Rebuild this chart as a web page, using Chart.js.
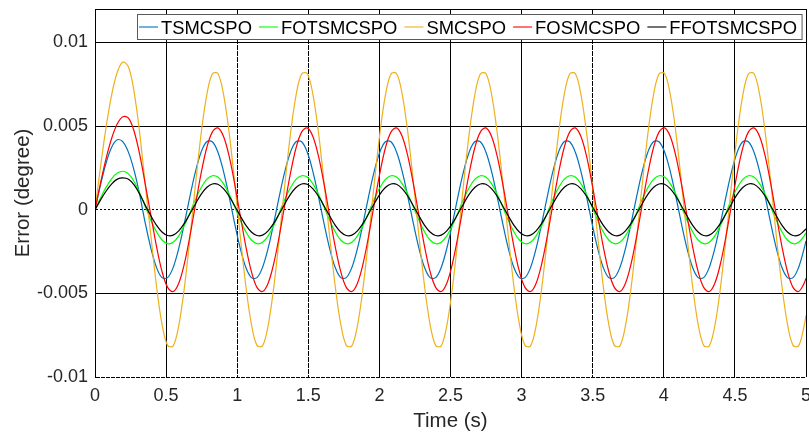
<!DOCTYPE html>
<html><head><meta charset="utf-8">
<script src="https://cdn.jsdelivr.net/npm/chart.js@4/dist/chart.umd.min.js"></script>
<style>html,body{margin:0;padding:0;background:#fff;}</style>
</head><body>
<canvas id="c" width="809" height="435"></canvas>
<script>
const seriesNames = ['TSMCSPO','FOTSMCSPO','SMCSPO','FOSMCSPO','FFOTSMCSPO'];
const seriesColors = ['#0072BD','#00FF00','#EDB120','#FF0000','#000000'];
const xTitle = 'Time (s)';
const yTitle = 'Error (degree)';
const xTicks = [0,0.5,1,1.5,2,2.5,3,3.5,4,4.5,5];
const xTickLabels = ['0','0.5','1','1.5','2','2.5','3','3.5','4','4.5','5'];
const yTicks = [-0.01,-0.005,0,0.005,0.01];
const yTickLabels = ['-0.01','-0.005','0','0.005','0.01'];

const time = [
0,0.0393,0.0785,0.1178,0.1571,0.1963,0.2356,0.2749,0.3142,0.3534,0.3927,0.4320,0.4712,0.5105,0.5498,0.5890,
0.6283,0.6676,0.7069,0.7461,0.7854,0.8247,0.8639,0.9032,0.9425,0.9817,1.0210,1.0603,1.0996,1.1388,1.1781,1.2174,
1.2566,1.2959,1.3352,1.3744,1.4137,1.4530,1.4923,1.5315,1.5708,1.6101,1.6493,1.6886,1.7279,1.7671,1.8064,1.8457,
1.8850,1.9242,1.9635,2.0028,2.0420,2.0813,2.1206,2.1598,2.1991,2.2384,2.2777,2.3169,2.3562,2.3955,2.4347,2.4740,
2.5133,2.5525,2.5918,2.6311,2.6704,2.7096,2.7489,2.7882,2.8274,2.8667,2.9060,2.9452,2.9845,3.0238,3.0631,3.1023,
3.1416,3.1809,3.2201,3.2594,3.2987,3.3379,3.3772,3.4165,3.4558,3.4950,3.5343,3.5736,3.6128,3.6521,3.6914,3.7306,
3.7699,3.8092,3.8485,3.8877,3.9270,3.9663,4.0055,4.0448,4.0841,4.1233,4.1626,4.2019,4.2412,4.2804,4.3197,4.3590,
4.3982,4.4375,4.4768,4.5160,4.5553,4.5946,4.6339,4.6731,4.7124,4.7517,4.7909,4.8302,4.8695,4.9087,4.9480,4.9873,
5.0];

const tsmcspo = [
0,0.00151,0.00281,0.00375,0.00418,0.00406,0.00343,0.00235,0.00090,-0.00080,-0.00229,-0.00344,-0.00406,-0.00406,-0.00345,-0.00231,
-0.00082,0.00080,0.00229,0.00344,0.00406,0.00406,0.00345,0.00231,0.00082,-0.00080,-0.00229,-0.00344,-0.00406,-0.00406,-0.00345,-0.00231,
-0.00082,0.00080,0.00229,0.00344,0.00406,0.00406,0.00345,0.00231,0.00082,-0.00080,-0.00229,-0.00344,-0.00406,-0.00406,-0.00345,-0.00231,
-0.00082,0.00080,0.00229,0.00344,0.00406,0.00406,0.00345,0.00231,0.00082,-0.00080,-0.00229,-0.00344,-0.00406,-0.00406,-0.00345,-0.00231,
-0.00082,0.00080,0.00229,0.00344,0.00406,0.00406,0.00345,0.00231,0.00082,-0.00080,-0.00229,-0.00344,-0.00406,-0.00406,-0.00345,-0.00231,
-0.00082,0.00080,0.00229,0.00344,0.00406,0.00406,0.00345,0.00231,0.00082,-0.00080,-0.00229,-0.00344,-0.00406,-0.00406,-0.00345,-0.00231,
-0.00082,0.00080,0.00229,0.00344,0.00406,0.00406,0.00345,0.00231,0.00082,-0.00080,-0.00229,-0.00344,-0.00406,-0.00406,-0.00345,-0.00231,
-0.00082,0.00080,0.00229,0.00344,0.00406,0.00406,0.00345,0.00231,0.00082,-0.00080,-0.00229,-0.00344,-0.00406,-0.00406,-0.00345,-0.00231,
-0.00186];

const fotsmcspo = [
0,0.00071,0.00135,0.00186,0.00219,0.00230,0.00214,0.00169,0.00100,0.00019,-0.00062,-0.00131,-0.00181,-0.00203,-0.00195,-0.00156,
-0.00094,-0.00018,0.00062,0.00131,0.00181,0.00203,0.00195,0.00156,0.00094,0.00018,-0.00062,-0.00131,-0.00181,-0.00203,-0.00195,-0.00156,
-0.00094,-0.00018,0.00062,0.00131,0.00181,0.00203,0.00195,0.00156,0.00094,0.00018,-0.00062,-0.00131,-0.00181,-0.00203,-0.00195,-0.00156,
-0.00094,-0.00018,0.00062,0.00131,0.00181,0.00203,0.00195,0.00156,0.00094,0.00018,-0.00062,-0.00131,-0.00181,-0.00203,-0.00195,-0.00156,
-0.00094,-0.00018,0.00062,0.00131,0.00181,0.00203,0.00195,0.00156,0.00094,0.00018,-0.00062,-0.00131,-0.00181,-0.00203,-0.00195,-0.00156,
-0.00094,-0.00018,0.00062,0.00131,0.00181,0.00203,0.00195,0.00156,0.00094,0.00018,-0.00062,-0.00131,-0.00181,-0.00203,-0.00195,-0.00156,
-0.00094,-0.00018,0.00062,0.00131,0.00181,0.00203,0.00195,0.00156,0.00094,0.00018,-0.00062,-0.00131,-0.00181,-0.00203,-0.00195,-0.00156,
-0.00094,-0.00018,0.00062,0.00131,0.00181,0.00203,0.00195,0.00156,0.00094,0.00018,-0.00062,-0.00131,-0.00181,-0.00203,-0.00195,-0.00156,
-0.00138];

const smcspo = [
0,0.00260,0.00497,0.00690,0.00823,0.00883,0.00853,0.00705,0.00458,0.00149,-0.00154,-0.00453,-0.00684,-0.00811,-0.00814,-0.00693,
-0.00467,-0.00169,0.00154,0.00453,0.00684,0.00811,0.00814,0.00693,0.00467,0.00169,-0.00154,-0.00453,-0.00684,-0.00811,-0.00814,-0.00693,
-0.00467,-0.00169,0.00154,0.00453,0.00684,0.00811,0.00814,0.00693,0.00467,0.00169,-0.00154,-0.00453,-0.00684,-0.00811,-0.00814,-0.00693,
-0.00467,-0.00169,0.00154,0.00453,0.00684,0.00811,0.00814,0.00693,0.00467,0.00169,-0.00154,-0.00453,-0.00684,-0.00811,-0.00814,-0.00693,
-0.00467,-0.00169,0.00154,0.00453,0.00684,0.00811,0.00814,0.00693,0.00467,0.00169,-0.00154,-0.00453,-0.00684,-0.00811,-0.00814,-0.00693,
-0.00467,-0.00169,0.00154,0.00453,0.00684,0.00811,0.00814,0.00693,0.00467,0.00169,-0.00154,-0.00453,-0.00684,-0.00811,-0.00814,-0.00693,
-0.00467,-0.00169,0.00154,0.00453,0.00684,0.00811,0.00814,0.00693,0.00467,0.00169,-0.00154,-0.00453,-0.00684,-0.00811,-0.00814,-0.00693,
-0.00467,-0.00169,0.00154,0.00453,0.00684,0.00811,0.00814,0.00693,0.00467,0.00169,-0.00154,-0.00453,-0.00684,-0.00811,-0.00814,-0.00693,
-0.00631];

const fosmcspo = [
0,0.00161,0.00308,0.00429,0.00514,0.00556,0.00547,0.00469,0.00331,0.00153,-0.00032,-0.00217,-0.00369,-0.00464,-0.00489,-0.00439,
-0.00323,-0.00157,0.00032,0.00217,0.00369,0.00464,0.00489,0.00439,0.00323,0.00157,-0.00032,-0.00217,-0.00369,-0.00464,-0.00489,-0.00439,
-0.00323,-0.00157,0.00032,0.00217,0.00369,0.00464,0.00489,0.00439,0.00323,0.00157,-0.00032,-0.00217,-0.00369,-0.00464,-0.00489,-0.00439,
-0.00323,-0.00157,0.00032,0.00217,0.00369,0.00464,0.00489,0.00439,0.00323,0.00157,-0.00032,-0.00217,-0.00369,-0.00464,-0.00489,-0.00439,
-0.00323,-0.00157,0.00032,0.00217,0.00369,0.00464,0.00489,0.00439,0.00323,0.00157,-0.00032,-0.00217,-0.00369,-0.00464,-0.00489,-0.00439,
-0.00323,-0.00157,0.00032,0.00217,0.00369,0.00464,0.00489,0.00439,0.00323,0.00157,-0.00032,-0.00217,-0.00369,-0.00464,-0.00489,-0.00439,
-0.00323,-0.00157,0.00032,0.00217,0.00369,0.00464,0.00489,0.00439,0.00323,0.00157,-0.00032,-0.00217,-0.00369,-0.00464,-0.00489,-0.00439,
-0.00323,-0.00157,0.00032,0.00217,0.00369,0.00464,0.00489,0.00439,0.00323,0.00157,-0.00032,-0.00217,-0.00369,-0.00464,-0.00489,-0.00439,
-0.00409];

const ffotsmcspo = [
0,0.00059,0.00112,0.00155,0.00183,0.00190,0.00182,0.00149,0.00094,0.00026,-0.00036,-0.00092,-0.00133,-0.00154,-0.00152,-0.00126,
-0.00082,-0.00024,0.00036,0.00092,0.00133,0.00154,0.00152,0.00126,0.00082,0.00024,-0.00036,-0.00092,-0.00133,-0.00154,-0.00152,-0.00126,
-0.00082,-0.00024,0.00036,0.00092,0.00133,0.00154,0.00152,0.00126,0.00082,0.00024,-0.00036,-0.00092,-0.00133,-0.00154,-0.00152,-0.00126,
-0.00082,-0.00024,0.00036,0.00092,0.00133,0.00154,0.00152,0.00126,0.00082,0.00024,-0.00036,-0.00092,-0.00133,-0.00154,-0.00152,-0.00126,
-0.00082,-0.00024,0.00036,0.00092,0.00133,0.00154,0.00152,0.00126,0.00082,0.00024,-0.00036,-0.00092,-0.00133,-0.00154,-0.00152,-0.00126,
-0.00082,-0.00024,0.00036,0.00092,0.00133,0.00154,0.00152,0.00126,0.00082,0.00024,-0.00036,-0.00092,-0.00133,-0.00154,-0.00152,-0.00126,
-0.00082,-0.00024,0.00036,0.00092,0.00133,0.00154,0.00152,0.00126,0.00082,0.00024,-0.00036,-0.00092,-0.00133,-0.00154,-0.00152,-0.00126,
-0.00082,-0.00024,0.00036,0.00092,0.00133,0.00154,0.00152,0.00126,0.00082,0.00024,-0.00036,-0.00092,-0.00133,-0.00154,-0.00152,-0.00126,
-0.00114];

const seriesValues = [tsmcspo, fotsmcspo, smcspo, fosmcspo, ffotsmcspo];

const FONT = '"Liberation Sans", Arial, Helvetica, sans-serif';
const TEXT = '#262626';

const datasets = seriesNames.map((name, i) => ({
  label: name,
  data: time.map((t, k) => ({x: t, y: seriesValues[i][k]})),
  borderColor: seriesColors[i],
  backgroundColor: seriesColors[i],
  borderWidth: 1.2,
  pointRadius: 0,
  tension: 0.35,
  fill: false,
  order: seriesNames.length - i
}));

const frameLegend = {
  id: 'frameLegend',
  afterDraw(chart) {
    const ctx = chart.ctx, a = chart.chartArea;
    ctx.save();
    ctx.strokeStyle = '#000';
    ctx.lineWidth = 1;
    ctx.setLineDash([]);
    ctx.beginPath();
    ctx.moveTo(a.left + 0.5, a.bottom);
    ctx.lineTo(a.left + 0.5, a.top + 0.5);
    ctx.lineTo(a.right + 0.5, a.top + 0.5);
    ctx.lineTo(a.right + 0.5, a.bottom);
    ctx.stroke();

    // legend
    ctx.font = '18.4px ' + FONT;
    const startX = 139, lineLen = 19, textGap = 3, itemGap = 7;
    let cur = startX;
    const items = [];
    seriesNames.forEach((n, i) => {
      const w = ctx.measureText(n).width;
      items.push({x: cur, w});
      cur += lineLen + textGap + w + itemGap;
    });
    const right = cur - itemGap + 5;
    const bx = 137.5, by = 14.5, bh = 25;
    ctx.fillStyle = '#fff';
    ctx.fillRect(bx, by, right - bx, bh);
    ctx.strokeStyle = '#5a5a5a';
    ctx.strokeRect(bx, by, right - bx, bh);
    seriesNames.forEach((n, i) => {
      const it = items[i];
      ctx.globalAlpha = 0.55;
      ctx.strokeStyle = seriesColors[i];
      ctx.lineWidth = 2;
      ctx.beginPath();
      ctx.moveTo(it.x, 27);
      ctx.lineTo(it.x + lineLen, 27);
      ctx.stroke();
      ctx.globalAlpha = 1;
      ctx.fillStyle = '#000';
      ctx.textBaseline = 'alphabetic';
      ctx.textAlign = 'left';
      ctx.fillText(n, it.x + lineLen + textGap, 34);
    });
    ctx.restore();
  }
};

const whiteBg = {
  id: 'whiteBg',
  beforeDraw(chart) {
    const ctx = chart.ctx;
    ctx.save();
    ctx.fillStyle = '#fff';
    ctx.fillRect(0, 0, chart.width, chart.height);
    ctx.restore();
  }
};

new Chart(document.getElementById('c'), {
  type: 'line',
  data: { datasets },
  plugins: [whiteBg, frameLegend],
  options: {
    responsive: false,
    animation: false,
    devicePixelRatio: 1,
    layout: { padding: { top: 9, right: 3, left: 0, bottom: 0 } },
    plugins: { legend: { display: false }, tooltip: { enabled: false } },
    scales: {
      x: {
        type: 'linear', min: 0, max: 5,
        afterBuildTicks: s => { s.ticks = xTicks.map(v => ({ value: v })); },
        afterFit: s => { s.height = 58; s.paddingLeft = 0; s.paddingRight = 0; },
        ticks: {
          autoSkip: false, maxRotation: 0, padding: 8, color: TEXT,
          font: { family: FONT, size: 18 },
          callback: (v, i) => xTickLabels[i]
        },
        grid: { color: '#000', lineWidth: 1, drawTicks: false },
        border: {
          display: false, color: '#000',
          dash: c => (c.tick && (c.tick.value === 1 || c.tick.value === 1.5 || c.tick.value === 3.5)) ? [5, 1] : []
        },
        title: {
          display: true, text: xTitle, color: TEXT,
          font: { family: FONT, size: 20.5, lineHeight: 1.2 },
          padding: { top: 0, bottom: 1.7 }
        }
      },
      y: {
        type: 'linear', min: -0.01, max: 0.012,
        afterBuildTicks: s => { s.ticks = yTicks.map(v => ({ value: v })); },
        afterFit: s => { s.width = 95; s.paddingTop = 0; s.paddingBottom = 0; },
        ticks: {
          autoSkip: false, padding: 7, color: TEXT,
          font: { family: FONT, size: 18 },
          callback: (v, i) => yTickLabels[i]
        },
        grid: { color: '#000', lineWidth: 1, drawTicks: false },
        border: {
          display: true, color: '#000',
          dash: c => (c.tick && c.tick.value === 0) ? [2, 2] : ((c.tick && c.tick.value === -0.01) ? [4, 1] : [])
        },
        title: {
          display: true, text: yTitle, color: TEXT,
          font: { family: FONT, size: 20.5, lineHeight: 1.2 },
          padding: { top: 10.7, bottom: 0 }
        }
      }
    }
  }
});
</script>
</body></html>
